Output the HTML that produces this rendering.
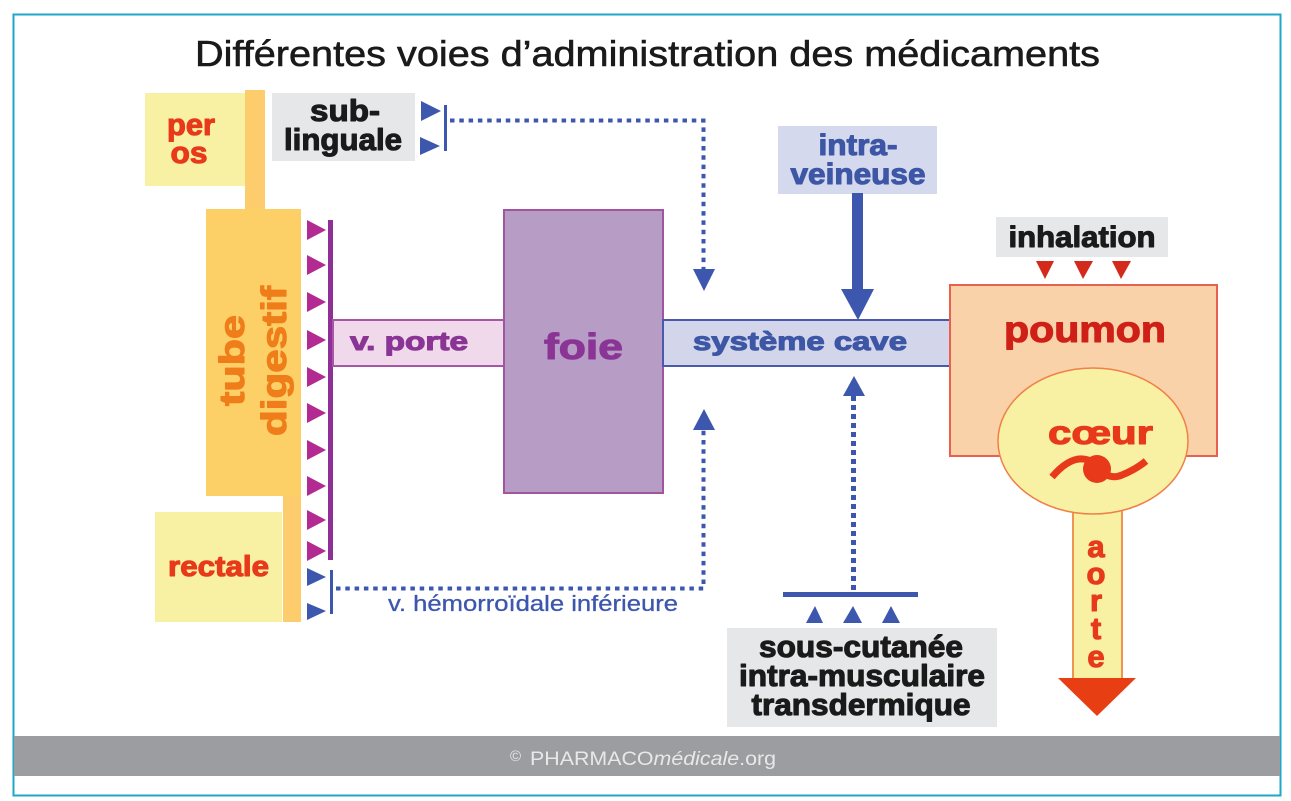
<!DOCTYPE html>
<html lang="fr">
<head>
<meta charset="utf-8">
<title>Différentes voies d'administration des médicaments</title>
<style>
html,body{margin:0;padding:0;background:#fff;width:1291px;height:801px;overflow:hidden}
svg{display:block}
text{font-family:"Liberation Sans",sans-serif}
.h{font-weight:bold;stroke-width:1.1px;stroke-linejoin:round}
</style>
</head>
<body>
<svg width="1291" height="801" viewBox="0 0 1291 801" xmlns="http://www.w3.org/2000/svg">
<rect x="13.500" y="14.500" width="1267" height="781" fill="#fff" stroke="#1ea7c8" stroke-width="2"/>
<text x="195" y="66" font-size="36" fill="#1a1a1a" stroke="#1a1a1a" stroke-width=".6" textLength="905" lengthAdjust="spacingAndGlyphs">Différentes voies d’administration des médicaments</text>

<!-- footer -->
<rect x="14" y="736" width="1266" height="40" fill="#9c9da1"/>
<text x="510" y="761" font-size="15" fill="#e8e8e8">©</text>
<text x="530" y="765" font-size="19.500" fill="#e8e8e8" textLength="246" lengthAdjust="spacingAndGlyphs">PHARMACO<tspan font-style="italic">médicale</tspan>.org</text>

<!-- digestive tube -->
<rect x="145" y="93" width="100" height="93" fill="#f8f1a4"/>
<rect x="245" y="90" width="20" height="120" fill="#fdcd6d"/>
<rect x="206" y="209" width="95" height="287" fill="#fdd067"/>
<rect x="283" y="496" width="18" height="126" fill="#fdcd6d"/>
<rect x="155" y="512" width="127" height="110" fill="#f8f1a4"/>
<text class="h" x="191" y="135" font-size="31" fill="#e8391a" stroke="#e8391a" text-anchor="middle" textLength="48" lengthAdjust="spacingAndGlyphs">per</text>
<text class="h" x="189" y="163" font-size="31" fill="#e8391a" stroke="#e8391a" text-anchor="middle" textLength="37" lengthAdjust="spacingAndGlyphs">os</text>
<text class="h" x="168" y="576" font-size="29" fill="#e8391a" stroke="#e8391a" textLength="101" lengthAdjust="spacingAndGlyphs">rectale</text>
<text class="h" transform="translate(244,406) rotate(-90)" font-size="35" fill="#ef7d1a" stroke="#ef7d1a" textLength="91" lengthAdjust="spacingAndGlyphs">tube</text>
<text class="h" transform="translate(286,436) rotate(-90)" font-size="35" fill="#ef7d1a" stroke="#ef7d1a" textLength="150" lengthAdjust="spacingAndGlyphs">digestif</text>

<!-- magenta arrows -->
<g fill="#b32a92">
<path d="M307 220 L326 230 L307 240Z"/>
<path d="M307 255 L326 265 L307 275Z"/>
<path d="M307 292 L326 302 L307 312Z"/>
<path d="M307 330 L326 340 L307 350Z"/>
<path d="M307 367 L326 377 L307 387Z"/>
<path d="M307 403 L326 413 L307 423Z"/>
<path d="M307 440 L326 450 L307 460Z"/>
<path d="M307 476 L326 486 L307 496Z"/>
<path d="M307 510 L326 520 L307 530Z"/>
<path d="M307 541 L326 551 L307 561Z"/>
</g>
<rect x="328" y="220" width="5" height="340" fill="#8f3096"/>

<!-- veine porte and liver -->
<rect x="333" y="320" width="171" height="46" fill="#f0d9ea" stroke="#a855a8" stroke-width="2"/>
<text class="h" x="350" y="350" font-size="26" fill="#8a3596" stroke="#8a3596" textLength="118" lengthAdjust="spacingAndGlyphs">v. porte</text>
<rect x="504" y="210" width="159" height="283" fill="#b79cc6" stroke="#a2559f" stroke-width="2"/>
<text class="h" x="544" y="359" font-size="36" fill="#8a3596" stroke="#8a3596" textLength="79" lengthAdjust="spacingAndGlyphs">foie</text>

<!-- système cave -->
<rect x="663" y="320" width="287" height="46" fill="#d3d6ea" stroke="#4a59ad" stroke-width="2"/>
<text class="h" x="693" y="350" font-size="26" fill="#3d56a6" stroke="#3d56a6" textLength="214" lengthAdjust="spacingAndGlyphs">système cave</text>

<!-- sub-linguale -->
<rect x="272" y="93" width="143" height="68" fill="#e6e7e8"/>
<text class="h" x="345" y="121" font-size="31" fill="#1a1a1a" stroke="#1a1a1a" text-anchor="middle" textLength="70" lengthAdjust="spacingAndGlyphs">sub-</text>
<text class="h" x="343" y="150" font-size="31" fill="#1a1a1a" stroke="#1a1a1a" text-anchor="middle" textLength="118" lengthAdjust="spacingAndGlyphs">linguale</text>
<g fill="#3c57ad">
<path d="M421 101 L441 111 L421 121Z"/>
<path d="M420 137 L440 146 L420 155Z"/>
<rect x="444" y="105" width="3" height="46"/>
</g>
<path d="M450 120.500 H703.500 V270" fill="none" stroke="#3c57ad" stroke-width="4" stroke-dasharray="4.500 4.800"/>
<path d="M693 269 H715 L704 291Z" fill="#3c57ad"/>

<!-- hémorroïdale -->
<g fill="#3c57ad">
<path d="M307 568 L326 577 L307 586Z"/>
<path d="M307 603 L326 611 L307 620Z"/>
<rect x="330" y="570" width="3" height="44"/>
</g>
<path d="M336 588.500 H703.500 V430" fill="none" stroke="#3c57ad" stroke-width="4" stroke-dasharray="4.500 4.800"/>
<path d="M693 430 H715 L704 409Z" fill="#3c57ad"/>
<text x="388" y="611" font-size="22" fill="#3c57ad" stroke="#3c57ad" stroke-width=".3" textLength="290" lengthAdjust="spacingAndGlyphs">v. hémorroïdale inférieure</text>

<!-- intra-veineuse -->
<rect x="778" y="126" width="159" height="68" fill="#d5d9ee"/>
<text class="h" x="858" y="155" font-size="30" fill="#3d56a6" stroke="#3d56a6" text-anchor="middle" textLength="79" lengthAdjust="spacingAndGlyphs">intra-</text>
<text class="h" x="858" y="184" font-size="30" fill="#3d56a6" stroke="#3d56a6" text-anchor="middle" textLength="135" lengthAdjust="spacingAndGlyphs">veineuse</text>
<rect x="852" y="193" width="11" height="98" fill="#3c57ad"/>
<path d="M841 289 H874 L858 320Z" fill="#3c57ad"/>

<!-- sous-cutanée -->
<path d="M853.500 396 V592" fill="none" stroke="#3c57ad" stroke-width="5" stroke-dasharray="5 4"/>
<path d="M843 396 H865 L854 376Z" fill="#3c57ad"/>
<rect x="783" y="592" width="135" height="5" fill="#3c57ad"/>
<g fill="#3c57ad">
<path d="M806 623 H823 L815 606Z"/>
<path d="M843 623 H862 L853 606Z"/>
<path d="M882 623 H900 L891 606Z"/>
</g>
<rect x="727" y="628" width="270" height="99" fill="#e6e7e8"/>
<text class="h" x="861" y="657" font-size="31" fill="#1a1a1a" stroke="#1a1a1a" text-anchor="middle" textLength="204" lengthAdjust="spacingAndGlyphs">sous-cutanée</text>
<text class="h" x="862" y="686" font-size="31" fill="#1a1a1a" stroke="#1a1a1a" text-anchor="middle" textLength="246" lengthAdjust="spacingAndGlyphs">intra-musculaire</text>
<text class="h" x="861" y="715" font-size="31" fill="#1a1a1a" stroke="#1a1a1a" text-anchor="middle" textLength="219" lengthAdjust="spacingAndGlyphs">transdermique</text>

<!-- inhalation -->
<rect x="996" y="217" width="172" height="40" fill="#e6e7e8"/>
<text class="h" x="1082" y="247" font-size="30" fill="#1a1a1a" stroke="#1a1a1a" text-anchor="middle" textLength="147" lengthAdjust="spacingAndGlyphs">inhalation</text>
<g fill="#d42a1c">
<path d="M1036 261 H1054 L1045 279Z"/>
<path d="M1074 261 H1093 L1083 279Z"/>
<path d="M1112 261 H1131 L1121 279Z"/>
</g>

<!-- poumon -->
<rect x="950" y="285" width="267" height="171" fill="#fad2a9" stroke="#e8604f" stroke-width="2"/>
<text class="h" x="1004" y="342" font-size="37" fill="#cf2018" stroke="#cf2018" textLength="162" lengthAdjust="spacingAndGlyphs">poumon</text>

<!-- aorte -->
<rect x="1073" y="505" width="49" height="174" fill="#f8f1a4" stroke="#f0954f" stroke-width="2"/>
<path d="M1058 678 H1136 L1097 716Z" fill="#e83e14"/>
<g font-size="31" fill="#e8391a" stroke="#e8391a" text-anchor="middle">
<text class="h" x="1096" y="557">a</text>
<text class="h" x="1096" y="584">o</text>
<text class="h" x="1096" y="611">r</text>
<text class="h" x="1096" y="639">t</text>
<text class="h" x="1096" y="667">e</text>
</g>

<!-- coeur -->
<ellipse cx="1093" cy="441" rx="95" ry="73" fill="#f8f1a4" stroke="#f0804a" stroke-width="1.500"/>
<text class="h" x="1048" y="444" font-size="33" fill="#e8391a" stroke="#e8391a" textLength="105" lengthAdjust="spacingAndGlyphs">cœur</text>
<path d="M1052 477 C1064 463 1076 456 1088 460 C1098 466 1106 482 1122 475 C1132 471 1140 466 1146 461" fill="none" stroke="#e8391a" stroke-width="7"/>
<circle cx="1097" cy="469" r="14" fill="#e8391a"/>
</svg>
</body>
</html>
